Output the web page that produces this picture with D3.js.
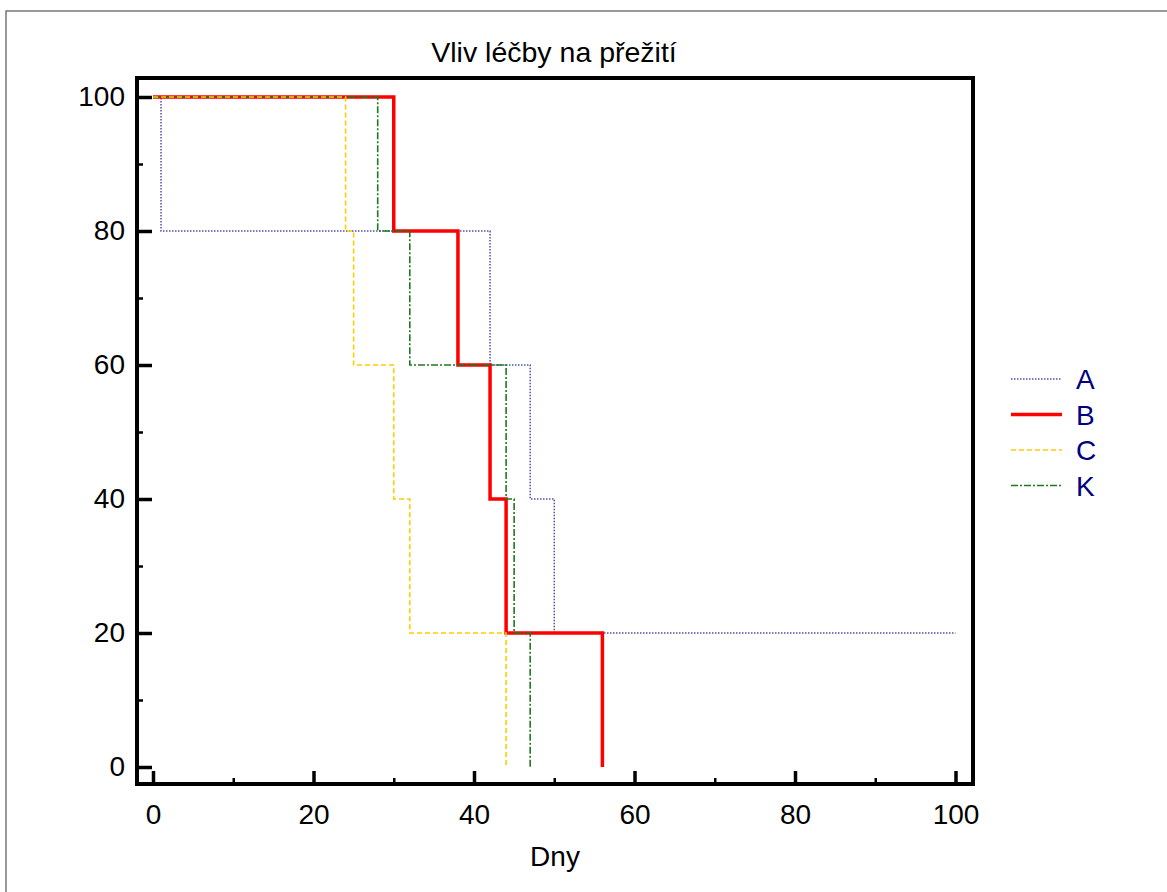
<!DOCTYPE html>
<html lang="cs">
<head>
<meta charset="UTF-8">
<title>Vliv léčby na přežití</title>
<script src="https://d3js.org/d3.v7.min.js"></script>
<style>
  body { margin: 0; background: #fff; }
  svg text { font-family: "Liberation Sans", Arial, sans-serif; }
</style>
</head>
<body>
<script>
// data (Kaplan-Meier style steps, % surviving)
const daysA = [0, 1, 42, 47, 50, 100];
const survA = [100, 80, 60, 40, 20, 20];
const daysB = [0, 30, 38, 42, 44, 56];
const survB = [100, 80, 60, 40, 20, 0];
const daysC = [0, 24, 25, 30, 32, 44];
const survC = [100, 80, 60, 40, 20, 0];
const daysK = [0, 28, 32, 44, 45, 47];
const survK = [100, 80, 60, 40, 20, 0];
const seriesNames = ["A", "B", "C", "K"];
const xTicks = [0, 20, 40, 60, 80, 100];
const yTicks = [0, 20, 40, 60, 80, 100];

const width = 1167, height = 892;
const box = {left: 137, top: 78, right: 973, bottom: 784};
const fontSize = 28;

const svg = d3.select("body").append("svg")
    .attr("width", width)
    .attr("height", height);

// outer frame
svg.append("rect")
    .attr("x", 6).attr("y", 11)
    .attr("width", 1200).attr("height", 1000)
    .attr("fill", "none")
    .attr("stroke", "#777")
    .attr("stroke-width", 1.5);

const x = d3.scaleLinear().domain([0, 100]).range([153, 955.5]);
const y = d3.scaleLinear().domain([0, 100]).range([767, 97]);

// title and axis label
svg.append("text")
    .attr("x", 554).attr("y", 62)
    .attr("text-anchor", "middle")
    .attr("font-size", 28.5)
    .text("Vliv léčby na přežití");

svg.append("text")
    .attr("x", 555).attr("y", 866)
    .attr("text-anchor", "middle")
    .attr("font-size", fontSize)
    .text("Dny");

// minor ticks
svg.append("g")
    .attr("transform", `translate(0,${box.bottom})`)
    .call(d3.axisBottom(x).tickValues(d3.range(10, 100, 20)).tickSize(-6).tickFormat(""))
    .call(g => g.select(".domain").remove())
    .call(g => g.selectAll("line").attr("stroke-width", 2.5));

svg.append("g")
    .attr("transform", `translate(${box.left},0)`)
    .call(d3.axisLeft(y).tickValues(d3.range(10, 100, 20)).tickSize(-6).tickFormat(""))
    .call(g => g.select(".domain").remove())
    .call(g => g.selectAll("line").attr("stroke-width", 2.5));

// major ticks with labels
const xAxis = svg.append("g")
    .attr("transform", `translate(0,${box.bottom})`)
    .call(d3.axisBottom(x).tickValues(xTicks).tickSize(-13).tickPadding(20))
    .call(g => g.select(".domain").remove());
xAxis.selectAll("line").attr("stroke-width", 3.5);
xAxis.selectAll("text").attr("font-size", fontSize).attr("fill", "#000")
    .style("font-family", '"Liberation Sans", Arial, sans-serif');

const yAxis = svg.append("g")
    .attr("transform", `translate(${box.left},0)`)
    .call(d3.axisLeft(y).tickValues(yTicks).tickSize(-15).tickPadding(12))
    .call(g => g.select(".domain").remove());
yAxis.selectAll("line").attr("stroke-width", 3.5);
yAxis.selectAll("text").attr("font-size", fontSize).attr("fill", "#000")
    .style("font-family", '"Liberation Sans", Arial, sans-serif');

// plot box
svg.append("rect")
    .attr("x", box.left).attr("y", box.top)
    .attr("width", box.right - box.left)
    .attr("height", box.bottom - box.top)
    .attr("fill", "none")
    .attr("stroke", "#000")
    .attr("stroke-width", 4);

const styles = {
  A: {color: "#5050b4", width: 1.5, dash: "1.5,1.5"},
  B: {color: "#ff0000", width: 3.5, dash: null},
  C: {color: "#ffcc00", width: 1.6, dash: "5,3"},
  K: {color: "#1f7a1f", width: 1.6, dash: "7,2,2,2"}
};

const series = {
  A: d3.zip(daysA, survA),
  B: d3.zip(daysB, survB),
  C: d3.zip(daysC, survC),
  K: d3.zip(daysK, survK)
};

const line = d3.line()
    .x(d => x(d[0]))
    .y(d => y(d[1]))
    .curve(d3.curveStepAfter);

["A", "B", "K", "C"].forEach(k => {
  svg.append("path")
      .attr("d", line(series[k]))
      .attr("fill", "none")
      .attr("stroke", styles[k].color)
      .attr("stroke-width", styles[k].width)
      .attr("stroke-dasharray", styles[k].dash);
});

// legend
const legend = svg.append("g");
seriesNames.forEach((k, i) => {
  const ly = 379 + i * 35.5;
  legend.append("line")
      .attr("x1", 1011).attr("x2", 1062)
      .attr("y1", ly).attr("y2", ly)
      .attr("stroke", styles[k].color)
      .attr("stroke-width", styles[k].width)
      .attr("stroke-dasharray", styles[k].dash);
  legend.append("text")
      .attr("x", 1076).attr("y", ly)
      .attr("dy", "0.36em")
      .attr("font-size", fontSize)
      .attr("fill", "#000080")
      .text(k);
});
</script>
</body>
</html>
